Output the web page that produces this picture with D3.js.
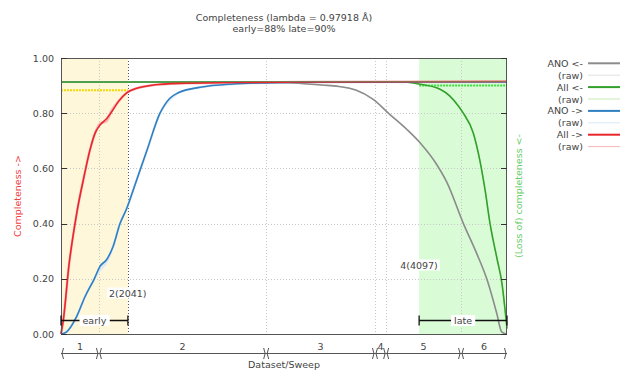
<!DOCTYPE html>
<html><head><meta charset="utf-8">
<script src="https://cdn.jsdelivr.net/npm/d3@7"></script>
<style>body{margin:0;background:#fff}svg{display:block}text{font-family:"DejaVu Sans",sans-serif;font-size:9.5px;fill:#444}</style>
</head><body><svg id="c" width="625" height="374"></svg>
<script>
// ---- data (x = position along total data collection, % of frames) ----
const sweepNames = ["1","2","3","4","5","6"];
const sweepBounds = [0, 8.5, 46.0, 70.4, 72.9, 89.7, 100];
const earlyEnd = 15.0, lateStart = 80.3;
const earlyValue = 0.883, lateValue = 0.90;
const overallValue = 0.913;
const yTicks = [0, 0.2, 0.4, 0.6, 0.8, 1.0];
const earlyLabel = "2(2041)", lateLabel = "4(4097)";

const allFwdX = [0,0.52,1.79,3.14,3.65,5.0,6.5,7.62,8.74,10.25,11.37,12.85,14.73,16.97,20.7,26.3,37.9,53.6,100];
const allFwdY = [0,0.05,0.25,0.40,0.449,0.558,0.667,0.727,0.757,0.781,0.805,0.842,0.874,0.89,0.902,0.908,0.911,0.913,0.915];
const allFwdRawY = [0,0.05,0.25,0.40,0.449,0.558,0.667,0.727,0.762,0.772,0.81,0.842,0.874,0.89,0.902,0.908,0.911,0.913,0.915];

const anoFwdX = [0,1.27,3.5,5.38,7.47,8.74,10.25,11.66,13.23,14.73,16.6,19.2,22.2,24.4,26.3,31.2,38.6,45.9,60,100];
const anoFwdY = [0,0.008,0.063,0.135,0.2,0.245,0.27,0.316,0.40,0.455,0.541,0.662,0.80,0.854,0.874,0.894,0.906,0.91,0.913,0.913];
const anoFwdRawY = [0,0.008,0.063,0.135,0.2,0.232,0.262,0.316,0.40,0.455,0.541,0.662,0.80,0.85,0.874,0.894,0.906,0.91,0.913,0.913];

const anoRevX = [0,45,50,58.5,62.3,66.1,70.0,73.7,77.5,80.5,84.2,86.5,90.2,93.2,95.5,97.7,98.8,100];
const anoRevY = [0.913,0.913,0.911,0.902,0.897,0.884,0.85,0.796,0.742,0.693,0.615,0.55,0.401,0.292,0.198,0.075,0.008,0];
const anoRevRawY = [0.913,0.913,0.911,0.902,0.897,0.884,0.85,0.796,0.742,0.693,0.615,0.55,0.401,0.292,0.198,0.075,0.008,0];

const allRevX = [0,77,80.5,85,87.2,89.1,90.2,92.4,93.9,95.1,96.2,97.8,98.9,99.55,100];
const allRevY = [0.913,0.913,0.905,0.887,0.862,0.826,0.80,0.73,0.63,0.52,0.40,0.27,0.18,0.09,0.02];
const allRevRawY = [0.913,0.913,0.905,0.887,0.862,0.826,0.80,0.73,0.63,0.52,0.40,0.27,0.18,0.09,0.02];

const legendLabels = ["ANO <-","(raw)","All <-","(raw)","ANO ->","(raw)","All ->","(raw)"];
const legendColors = ["#8c8c8c","#e3e3e3","#33a02c","#c5ebb0","#2f7fc1","#dbe9f6","#e8262b","#f8b6b8"];
const legendWidths = [2,1,2,1,2,1,2,1];

// ---- drawing ----
const svg = d3.select("#c");
const L=61, R=507, T=58, B=334;
const x = d3.scaleLinear().domain([0,100]).range([L,R]);
const y = d3.scaleLinear().domain([0,1]).range([B,T]);

// shaded regions
svg.append("rect").attr("x",x(0)).attr("y",T).attr("width",x(earlyEnd)-x(0)).attr("height",B-T).attr("fill","#fff7d9");
svg.append("rect").attr("x",x(lateStart)).attr("y",T).attr("width",x(100)-x(lateStart)).attr("height",B-T).attr("fill","#d9fcd6");

// grid
svg.append("g").selectAll("line").data(yTicks.filter(v=>v>0&&v<1)).join("line")
  .attr("x1",L).attr("x2",R).attr("y1",d=>Math.round(y(d))+0.5).attr("y2",d=>Math.round(y(d))+0.5)
  .attr("stroke","#c8c8c8").attr("stroke-width",1).attr("stroke-dasharray","1,2");
svg.append("g").selectAll("line").data(sweepBounds.slice(1,-1)).join("line")
  .attr("x1",d=>Math.round(x(d))+0.5).attr("x2",d=>Math.round(x(d))+0.5).attr("y1",T).attr("y2",B)
  .attr("stroke","#c8c8c8").attr("stroke-dasharray","1,2");
svg.append("line").attr("x1",Math.round(x(earlyEnd))+0.5).attr("x2",Math.round(x(earlyEnd))+0.5).attr("y1",T).attr("y2",B)
  .attr("stroke","#555").attr("stroke-dasharray","1,2");

// early / late dotted levels
svg.append("line").attr("x1",x(0)).attr("x2",x(earlyEnd)).attr("y1",y(earlyValue)).attr("y2",y(earlyValue))
  .attr("stroke","#f2d700").attr("stroke-width",2).attr("stroke-dasharray","2,1");
svg.append("line").attr("x1",x(lateStart)).attr("x2",x(100)).attr("y1",y(lateValue)).attr("y2",y(lateValue))
  .attr("stroke","#3ee03e").attr("stroke-width",2).attr("stroke-dasharray","2,1");

// curves
const line = d3.line().x(d=>x(d[0])).y(d=>y(d[1])).curve(d3.curveMonotoneX);
const zip = (xs,ys)=>xs.map((v,i)=>[v,ys[i]]);
const series = [
  [anoRevX, anoRevRawY, 1, 1.2], [allRevX, allRevRawY, 3, 1.2],
  [anoFwdX, anoFwdRawY, 5, 2.5], [allFwdX, allFwdRawY, 7, 2.5],
  [anoRevX, anoRevY, 0, 1.6], [allRevX, allRevY, 2, 1.6],
  [anoFwdX, anoFwdY, 4, 1.6], [allFwdX, allFwdY, 6, 1.6]
];
svg.append("line").attr("x1",L).attr("x2",R).attr("y1",y(overallValue)).attr("y2",y(overallValue))
  .attr("stroke","#8c8c8c").attr("stroke-width",2);
series.forEach(s=>{
  svg.append("path").attr("d",line(zip(s[0],s[1]))).attr("fill","none")
    .attr("stroke",legendColors[s[2]]).attr("stroke-width",s[3]);
});
svg.append("line").attr("x1",L).attr("x2",R).attr("y1",y(overallValue)-0.5).attr("y2",y(overallValue)-0.5)
  .attr("stroke","#5f9e5f").attr("stroke-width",1).attr("opacity",0.6);

// frame
svg.append("rect").attr("x",L+0.5).attr("y",T+0.5).attr("width",R-L-1).attr("height",B-T).attr("fill","none").attr("stroke","#555");

// y ticks
const tk = svg.append("g");
yTicks.forEach(v=>{
  tk.append("line").attr("x1",L).attr("x2",L+6).attr("y1",Math.round(y(v))+0.5).attr("y2",Math.round(y(v))+0.5).attr("stroke","#333");
  tk.append("line").attr("x1",R-6).attr("x2",R).attr("y1",Math.round(y(v))+0.5).attr("y2",Math.round(y(v))+0.5).attr("stroke","#333");
  tk.append("text").attr("x",54).attr("y",y(v)+3.5).attr("text-anchor","end").text(d3.format(".2f")(v));
});

// axis titles
svg.append("text").attr("transform",`translate(21,${(T+B)/2}) rotate(-90)`).attr("text-anchor","middle")
  .style("fill","#f04040").text("Completeness ->");
svg.append("text").attr("transform",`translate(522,${(T+B)/2}) rotate(-90)`).attr("text-anchor","middle")
  .style("fill","#66cc66").text("(Loss of) completeness <-");

// title
svg.append("text").attr("x",284).attr("y",20.5).attr("text-anchor","middle").text("Completeness (lambda = 0.97918 Å)");
svg.append("text").attr("x",284).attr("y",32).attr("text-anchor","middle").text("early=88% late=90%");

// early / late brackets
function bracket(a,b,label){
  const yy = 320.5, g = svg.append("g");
  g.append("line").attr("x1",x(a)).attr("x2",x(b)).attr("y1",yy).attr("y2",yy).attr("stroke","#111").attr("stroke-width",1.3);
  [a,b].forEach(v=>g.append("line").attr("x1",x(v)).attr("x2",x(v)).attr("y1",yy-5).attr("y2",yy+5).attr("stroke","#111").attr("stroke-width",1.3));
  const cx=(x(a)+x(b))/2;
  const t = g.append("text").attr("x",cx).attr("y",yy+3.5).attr("text-anchor","middle").text(label);
  const bb = t.node().getBBox();
  g.insert("rect","text").attr("x",bb.x-3).attr("y",bb.y).attr("width",bb.width+6).attr("height",bb.height).attr("fill","#fff");
}
bracket(0,earlyEnd,"early");
bracket(lateStart,100,"late");

// frame labels
function boxLabel(px,py,label){
  const g=svg.append("g");
  const t=g.append("text").attr("x",px).attr("y",py).text(label);
  const bb=t.node().getBBox();
  g.insert("rect","text").attr("x",bb.x-2).attr("y",bb.y).attr("width",bb.width+4).attr("height",bb.height).attr("fill","#fff");
}
boxLabel(x(earlyEnd)-19,296.5,earlyLabel);
boxLabel(x(lateStart)-19,268.5,lateLabel);

// sweeps
const sy = 353.5, sg = svg.append("g");
sg.append("line").attr("x1",x(0)).attr("x2",x(100)).attr("y1",sy).attr("y2",sy).attr("stroke","#555");
sweepNames.forEach((n,i)=>{
  const a=x(sweepBounds[i]), b=x(sweepBounds[i+1]);
  sg.append("path").attr("d",`M${a+2.5},${sy-5.5} Q${a-0.5},${sy} ${a+2.5},${sy+5.5}`).attr("fill","none").attr("stroke","#555");
  sg.append("path").attr("d",`M${b-2.5},${sy-5.5} Q${b+0.5},${sy} ${b-2.5},${sy+5.5}`).attr("fill","none").attr("stroke","#555");
  sg.append("text").attr("x",(a+b)/2).attr("y",350).attr("text-anchor","middle").text(n);
});
svg.append("text").attr("x",284).attr("y",368).attr("text-anchor","middle").text("Dataset/Sweep");

// legend
legendLabels.forEach((l,i)=>{
  const yy = 63.3 + i*11.9;
  svg.append("text").attr("x",583).attr("y",yy+3.5).attr("text-anchor","end").text(l);
  svg.append("line").attr("x1",588).attr("x2",620).attr("y1",yy).attr("y2",yy)
    .attr("stroke",legendColors[i]).attr("stroke-width",legendWidths[i]);
});
</script></body></html>
